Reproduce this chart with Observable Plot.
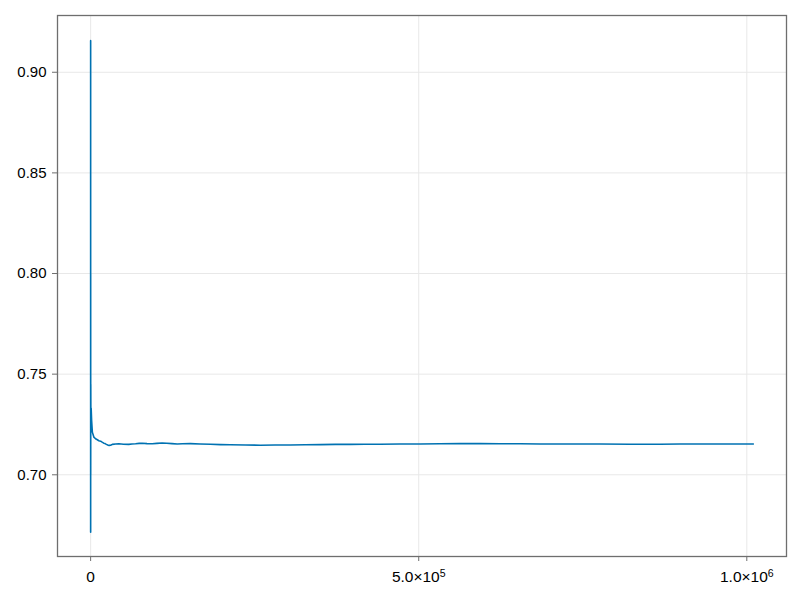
<!DOCTYPE html>
<html>
<head>
<meta charset="utf-8">
<script src="https://cdn.jsdelivr.net/npm/d3@7"></script>
<script src="https://cdn.jsdelivr.net/npm/@observablehq/plot@0.6"></script>
<style>
  html, body { margin: 0; padding: 0; background: #fff; }
  #chart { width: 800px; height: 600px; }
</style>
</head>
<body>
<div id="chart"></div>
<script>
// Data (running value vs. iteration)
const xValues = [0, 10, 40, 100, 200, 400, 800, 1500, 2600, 5000, 7500, 10200, 12500, 15200, 17500, 20000, 22000, 24000, 26000, 28000, 30500, 33000, 38000, 43000, 50000, 58000, 63000, 68500, 74000, 78700, 86000, 94000, 101000, 109000, 116000, 124000, 132000, 140000, 152000, 167000, 182600, 198000, 213000, 236000, 258700, 281000, 304000, 327000, 350000, 373000, 395700, 418000, 441000, 471000, 502000, 532000, 563000, 594000, 624000, 655000, 685000, 730000, 776000, 822000, 867500, 898000, 928000, 970000, 1010000];
const yValues = [0.9157, 0.6715, 0.800, 0.700, 0.745, 0.723, 0.733, 0.727, 0.7212, 0.7187, 0.7179, 0.7174, 0.7169, 0.7167, 0.7162, 0.7157, 0.7155, 0.7151, 0.7148, 0.7146, 0.7147, 0.7151, 0.7153, 0.7154, 0.7152, 0.7151, 0.7153, 0.7154, 0.7156, 0.7157, 0.7155, 0.7154, 0.7156, 0.7158, 0.7157, 0.7155, 0.7153, 0.7154, 0.7155, 0.7153, 0.7152, 0.7150, 0.7149, 0.7148, 0.7147, 0.7148, 0.7148, 0.7149, 0.7150, 0.7151, 0.7151, 0.7152, 0.7152, 0.7153, 0.7153, 0.7154, 0.7155, 0.7155, 0.7154, 0.7154, 0.7153, 0.7153, 0.7153, 0.7152, 0.7152, 0.7153, 0.7153, 0.7153, 0.7153];

const xTicks = [0, 500000, 1000000];
const xTickBases = ["0", "5.0×10", "1.0×10"];
const xTickExponents = ["", "5", "6"];
const yTicks = [0.70, 0.75, 0.80, 0.85, 0.90];
const yTickLabels = ["0.70", "0.75", "0.80", "0.85", "0.90"];

const data = xValues.map((x, i) => ({x, y: yValues[i]}));

const chart = Plot.plot({
  width: 800,
  height: 600,
  marginLeft: 57,
  marginRight: 14,
  marginTop: 15,
  marginBottom: 44,
  style: {fontFamily: "'Liberation Sans', Arial, sans-serif", fontSize: "15px", color: "#000", background: "#fff"},
  x: {domain: [-50500, 1060500]},
  y: {domain: [0.6594, 0.9282]},
  marks: [
    Plot.gridX(xTicks, {stroke: "#e8e8e8", strokeOpacity: 1, strokeWidth: 1}),
    Plot.gridY(yTicks, {stroke: "#e8e8e8", strokeOpacity: 1, strokeWidth: 1}),
    Plot.line(data, {x: "x", y: "y", stroke: "#0072B2", strokeWidth: 1.6}),
    Plot.frame({stroke: "#6e6e6e", strokeWidth: 1.3}),
    Plot.axisX({ticks: xTicks, tickFormat: (d) => xTickBases[xTicks.indexOf(d)] + "|" + xTickExponents[xTicks.indexOf(d)], tickSize: 5, tickPadding: 9, stroke: "#6e6e6e", label: null, fontSize: 15.5, className: "xax"}),
    Plot.axisY({ticks: yTicks, tickFormat: (d) => yTickLabels[yTicks.indexOf(d)], tickSize: 5, tickPadding: 6, stroke: "#6e6e6e", label: null, fontSize: 15})
  ]
});
document.getElementById("chart").appendChild(chart);

// Render exponents as real superscripts
d3.select(chart).selectAll(".xax text").each(function() {
  const t = d3.select(this);
  const raw = t.text();
  const [base, exp] = raw.split("|");
  t.text("");
  t.append("tspan").text(base);
  if (exp) {
    t.append("tspan").attr("dy", "-0.42em").attr("font-size", "0.68em").text(exp);
  }
});
</script>
</body>
</html>
